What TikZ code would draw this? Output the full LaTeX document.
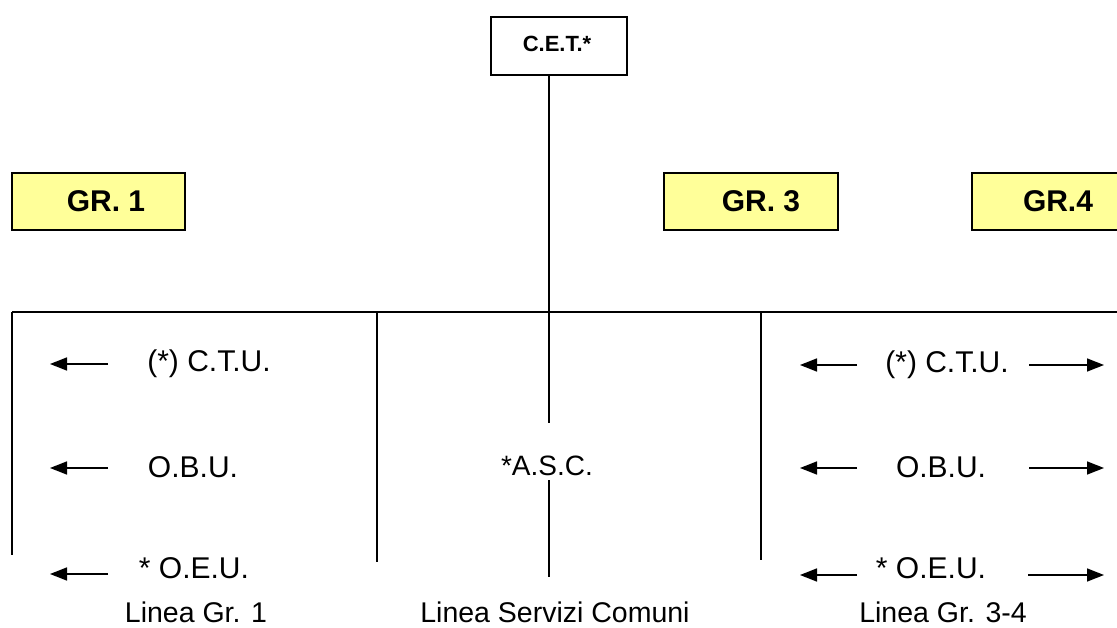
\documentclass[tikz,border=0pt]{standalone}
\usepackage{fontspec}
\setmainfont{Liberation Sans}
\usetikzlibrary{arrows.meta}
\definecolor{gryellow}{HTML}{FFFF99}
\begin{document}
\begin{tikzpicture}[x=1pt,y=-1pt,
  ln/.style={line width=1.5pt,black},
  arr/.style={line width=1.5pt,-{Triangle[length=17pt,width=13pt]}},
  grbox/.style={draw,line width=1.5pt,fill=gryellow},
  lbl/.style={inner sep=0pt,font=\fontsize{30}{32}\selectfont},
  linelbl/.style={inner sep=0pt,font=\fontsize{28.5}{30}\selectfont},
  grtxt/.style={inner sep=0pt,font=\fontsize{30}{32}\selectfont\bfseries}]
\useasboundingbox (0,0) rectangle (1117,628);
\begin{scope}
\clip (0,0) rectangle (1117,628);
% C.E.T. box
\draw[ln,fill=white] (491,17) rectangle (627,75);
\node[inner sep=0pt,font=\fontsize{22}{24}\selectfont\bfseries] (cet) at (557,44) {C.E.T.*};
\coordinate (cetb) at (549,75);
% GR boxes
\draw[grbox] (12,173) rectangle (185,230);
\node[grtxt] (gr1) at (106,201) {GR. 1};
\draw[grbox] (664,173) rectangle (838,230);
\node[grtxt] (gr3) at (761,201) {GR. 3};
\draw[grbox] (972,173) rectangle (1130,230);
\node[grtxt] (gr4) at (1058,201) {GR.4};
% tree lines
\coordinate (hl) at (12,312);
\coordinate (hr) at (1117,312);
\coordinate (hc) at (549,312);
\draw[ln] (cetb) -- (hc);
\draw[ln] (hl) -- (hr);
\coordinate (v1b) at (12,555);
\coordinate (v2t) at (377,312);
\coordinate (v2b) at (377,562);
\coordinate (v3t) at (761,312);
\coordinate (v3b) at (761,560);
\draw[ln] (hl) -- (v1b);
\draw[ln] (v2t) -- (v2b);
\draw[ln] (v3t) -- (v3b);
% central line with A.S.C.
\node[lbl,font=\fontsize{28}{30}\selectfont] (asc) at (547,466) {*A.S.C.};
\coordinate (c1) at (549,423);
\coordinate (c2) at (549,480);
\coordinate (c3) at (549,577);
\draw[ln] (hc) -- (c1);
\draw[ln] (c2) -- (c3);
% left panel
\node[lbl] (ctu1) at (209,364) {(*) C.T.U.};
\node[lbl] (obu1) at (193,467) {O.B.U.};
\node[lbl] (oeu1) at (194,568) {* O.E.U.};
\coordinate (a1s) at (108,364); \coordinate (a1e) at (50,364);
\coordinate (a2s) at (108,468); \coordinate (a2e) at (50,468);
\coordinate (a3s) at (108,574); \coordinate (a3e) at (50,574);
\draw[arr] (a1s) -- (a1e);
\draw[arr] (a2s) -- (a2e);
\draw[arr] (a3s) -- (a3e);
% right panel
\node[lbl] (ctu3) at (947,365) {(*) C.T.U.};
\node[lbl] (obu3) at (941,467) {O.B.U.};
\node[lbl] (oeu3) at (931,568) {* O.E.U.};
\coordinate (b1s) at (857,365); \coordinate (b1e) at (800,365);
\coordinate (b2s) at (857,468); \coordinate (b2e) at (800,468);
\coordinate (b3s) at (857,575); \coordinate (b3e) at (800,575);
\draw[arr] (b1s) -- (b1e);
\draw[arr] (b2s) -- (b2e);
\draw[arr] (b3s) -- (b3e);
\coordinate (r1s) at (1029,365); \coordinate (r1e) at (1104,365);
\coordinate (r2s) at (1029,468); \coordinate (r2e) at (1104,468);
\coordinate (r3s) at (1028,575); \coordinate (r3e) at (1104,575);
\draw[arr] (r1s) -- (r1e);
\draw[arr] (r2s) -- (r2e);
\draw[arr] (r3s) -- (r3e);
% bottom labels
\node[linelbl] (l1) at (196,612) {Linea Gr. 1};
\node[linelbl] (l2) at (555,612) {Linea Servizi Comuni};
\node[linelbl] (l3) at (943,612) {Linea Gr. 3-4};
\end{scope}
\end{tikzpicture}
\end{document}
